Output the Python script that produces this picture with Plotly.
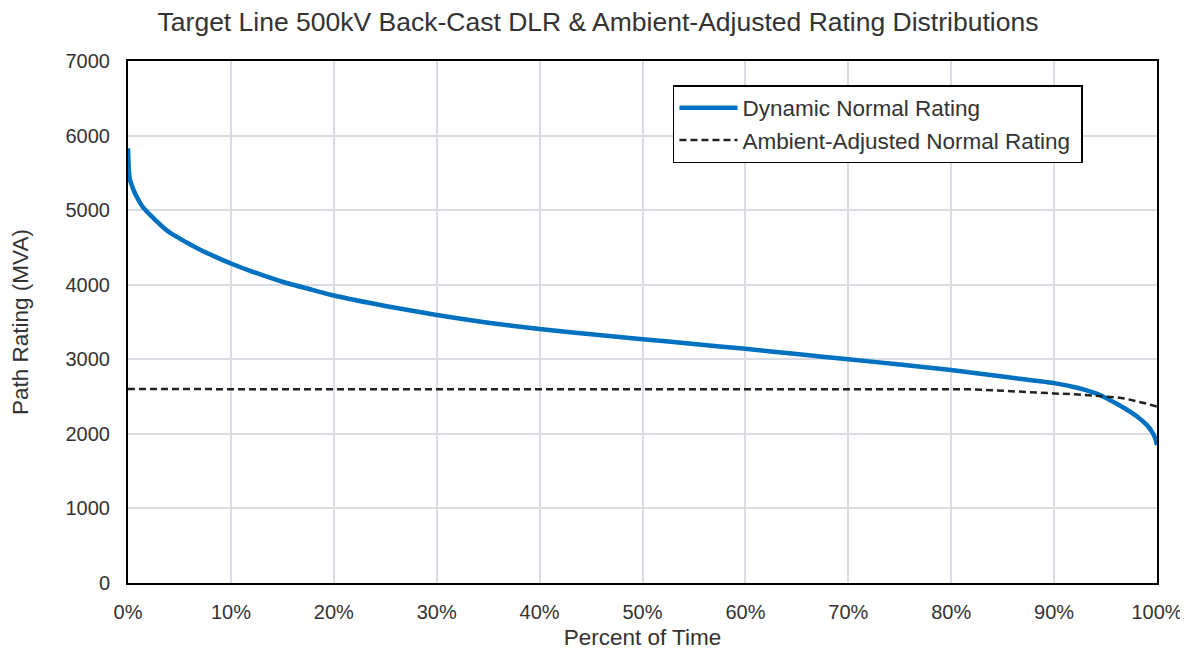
import plotly.graph_objects as go

# Dynamic Normal Rating duration curve (percent of time, MVA)
dyn_pct = [0, 0.1, 0.2, 0.35, 0.6, 0.85, 1.3, 1.8, 2.3, 2.8, 3.4, 4.1, 5, 5.7, 6.5, 7.3, 8, 8.9, 10,
           12, 15, 18, 20, 25, 30, 35, 40, 45, 50, 55, 60, 65, 70, 75, 80, 85, 88, 90, 92, 93, 94,
           95, 96, 97, 98, 99, 99.5, 99.8, 100]
dyn_mva = [5830, 5500, 5400, 5340, 5250, 5180, 5070, 4985, 4915, 4850, 4770, 4695, 4622, 4565,
           4505, 4450, 4405, 4350, 4285, 4180, 4040, 3928, 3855, 3715, 3595, 3490, 3405, 3335,
           3270, 3205, 3140, 3070, 3000, 2930, 2855, 2770, 2715, 2680, 2625, 2590, 2545, 2485,
           2410, 2330, 2240, 2120, 2030, 1950, 1850]

# Ambient-Adjusted Normal Rating
amb_pct = [0, 20, 40, 60, 80, 82, 84, 86, 88, 90, 92, 94, 96, 97, 98, 99, 100]
amb_mva = [2600, 2600, 2600, 2600, 2600, 2598, 2585, 2568, 2555, 2542, 2530, 2515, 2490, 2470,
           2440, 2405, 2365]

x_ticks = [0, 10, 20, 30, 40, 50, 60, 70, 80, 90, 100]
x_tick_labels = [f"{t}%" for t in x_ticks]

fig = go.Figure()
fig.add_trace(go.Scatter(x=dyn_pct, y=dyn_mva, mode="lines", name="Dynamic Normal Rating",
                         line=dict(color="#0070c0", width=4.5, shape="spline", smoothing=0.6)))
fig.add_trace(go.Scatter(x=amb_pct, y=amb_mva, mode="lines", name="Ambient-Adjusted Normal Rating ",
                         line=dict(color="#222222", width=2.5, dash="7px,4px")))

font_family = "Liberation Sans, Arial, sans-serif"
txt = "#333333"
fig.update_layout(
    width=1180, height=642,
    paper_bgcolor="white", plot_bgcolor="white",
    margin=dict(l=120, r=31, t=53, b=67),
    font=dict(family=font_family, color=txt),
    title=dict(text="Target Line 500kV Back-Cast DLR & Ambient-Adjusted Rating Distributions",
               x=0.5, xanchor="center", xref="container",
               y=1 - 14 / 642, yanchor="middle", yref="container",
               font=dict(size=26.5, color=txt, family=font_family)),
    showlegend=True,
    legend=dict(x=0.5296, y=0.954, xanchor="left", yanchor="top",
                bordercolor="black", borderwidth=1.5, bgcolor="white",
                font=dict(size=22.5, color=txt), tracegroupgap=0,
                itemwidth=58),
)
fig.update_xaxes(range=[0, 100], tickvals=x_ticks, ticktext=x_tick_labels,
                 showgrid=True, gridcolor="#d9dde3", gridwidth=1.5,
                 showline=True, linecolor="black", linewidth=2, mirror=True,
                 ticks="outside", ticklen=10, tickcolor="rgba(0,0,0,0)",
                 tickfont=dict(size=20, color=txt),
                 title=dict(text="Percent of Time", font=dict(size=22.5, color=txt), standoff=8),
                 zeroline=False, automargin=False)
fig.update_yaxes(range=[0, 7000], dtick=1000,
                 showgrid=True, gridcolor="#d9dde3", gridwidth=1.5,
                 showline=True, linecolor="black", linewidth=2, mirror=True,
                 ticks="outside", ticklen=12, tickcolor="rgba(0,0,0,0)",
                 tickfont=dict(size=20, color=txt),
                 title=dict(text="Path Rating (MVA)", font=dict(size=22.5, color=txt), standoff=36),
                 zeroline=False, automargin=False)

fig.write_html("out.html")
